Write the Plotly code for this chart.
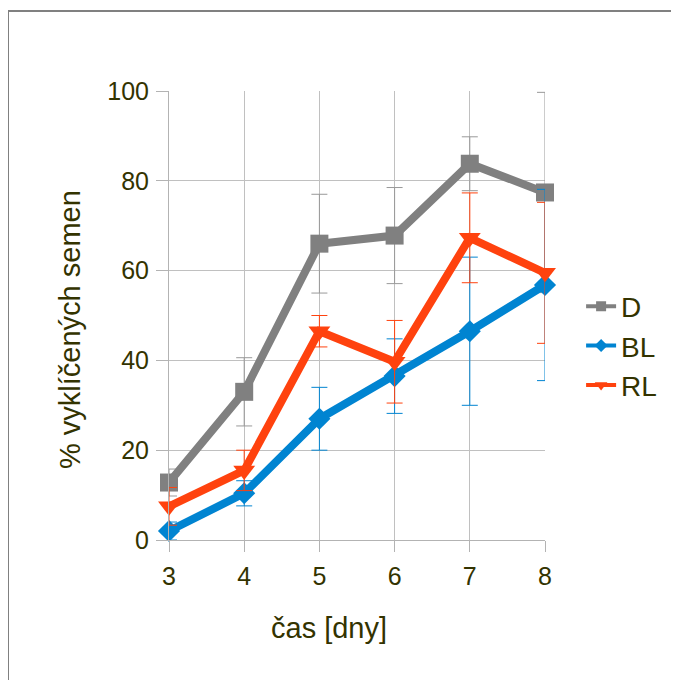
import plotly.graph_objects as go

days = [3, 4, 5, 6, 7, 8]
d_vals = [12.8, 33, 66, 67.8, 83.8, 77.4]
d_err = [3, 7.6, 11, 10.7, 6, 22.3]
bl_vals = [2, 10.4, 27, 36.5, 46.5, 56.8]
bl_err = [2, 2.8, 7, 8.3, 16.5, 21.3]
rl_vals = [7.5, 15.5, 46.5, 39.7, 67.3, 59.5]
rl_err = [4.2, 4.5, 3.5, 9.2, 10, 15.7]

series = [
    ("D", d_vals, d_err, "#808080", "#999999", "square", 18, 10),
    ("BL", bl_vals, bl_err, "#0084d1", "#0084d1", "diamond", 17, 10),
    ("RL", rl_vals, rl_err, "#ff420e", "#ff420e", "triangle-down", 19, 11),
]

fig = go.Figure()
for name, vals, err, col, ecol, sym, ms, lms in series:
    fig.add_trace(go.Scatter(
        x=days, y=vals, name=name, mode="lines+markers", showlegend=False,
        line=dict(color=col, width=8),
        marker=dict(symbol=sym, size=ms, color=col),
        error_y=dict(type="data", array=err, visible=True, color=ecol, thickness=1, width=8),
        cliponaxis=False,
    ))
for name, vals, err, col, ecol, sym, ms, lms in series:
    fig.add_trace(go.Scatter(
        x=[None], y=[None], name=name, mode="lines+markers",
        line=dict(color=col, width=4),
        marker=dict(symbol=sym, size=lms, color=col),
    ))

txt = "#333300"
fig.update_layout(
    width=679, height=680,
    margin=dict(l=161, r=142, t=83, b=148),
    paper_bgcolor="white", plot_bgcolor="white",
    font=dict(family="Liberation Sans, Arial, sans-serif", color=txt, size=25),
    showlegend=True,
    legend=dict(x=1.096, y=(540 - 346) / 449, xanchor="left", yanchor="middle",
                font=dict(size=28, color=txt), tracegroupgap=0, itemwidth=30),
    xaxis=dict(range=[3, 8], tickvals=days, showgrid=True, gridcolor="#c0c0c0",
               showline=True, linecolor="#b3b3b3", ticks="outside", ticklen=11,
               tickcolor="#b3b3b3", zeroline=False, tickfont=dict(size=25),
               ticklabelstandoff=3),
    yaxis=dict(range=[0, 100], tickvals=[0, 20, 40, 60, 80, 100], showgrid=True,
               gridcolor="#c0c0c0", showline=True, linecolor="#b3b3b3",
               ticks="outside", ticklen=12, tickcolor="#b3b3b3", zeroline=False,
               tickfont=dict(size=25), ticklabelstandoff=2),
    annotations=[
        dict(text="% vyklíčených semen", xref="paper", yref="paper",
             x=(70 - 169) / 376, y=(540 - 330) / 449, textangle=-90,
             xanchor="center", yanchor="middle", showarrow=False,
             font=dict(size=29, color=txt)),
        dict(text="čas [dny]", xref="paper", yref="paper",
             x=(329 - 169) / 376, y=(540 - 628) / 449,
             xanchor="center", yanchor="middle", showarrow=False,
             font=dict(size=29, color=txt)),
    ],
    shapes=[dict(type="rect", xref="paper", yref="paper",
                 x0=(8 - 169) / 376, x1=1.6, y0=-0.6, y1=(540 - 11) / 449,
                 line=dict(color="#808080", width=2), fillcolor="rgba(0,0,0,0)")],
)
fig.write_html("out.html")
